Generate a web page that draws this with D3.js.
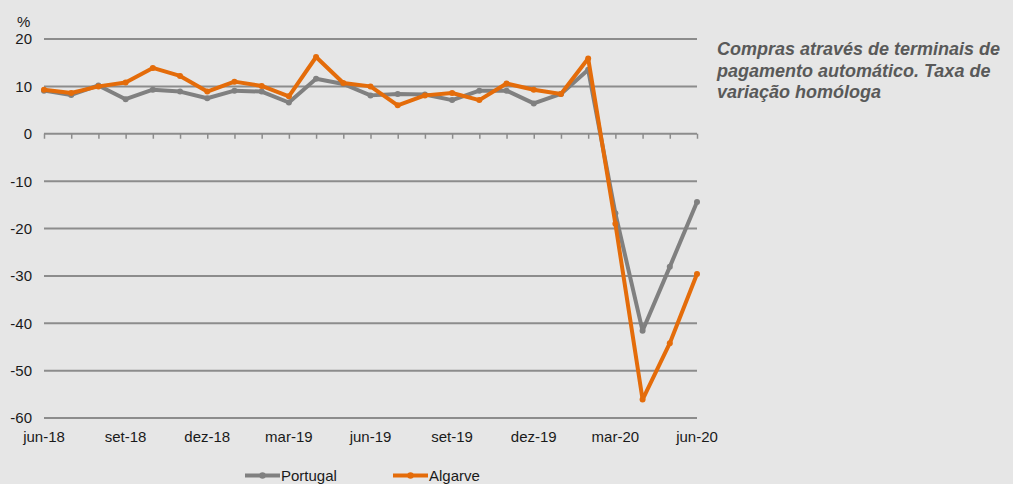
<!DOCTYPE html>
<html>
<head>
<meta charset="utf-8">
<script src="https://cdn.jsdelivr.net/npm/d3@7"></script>
<style>
  body { margin: 0; background: #e6e6e6; }
  svg { display: block; font-family: "Liberation Sans", Arial, sans-serif; }
</style>
</head>
<body>
<div id="chart"></div>
<script>
const months = ["jun-18","jul-18","ago-18","set-18","out-18","nov-18","dez-18","jan-19","fev-19","mar-19","abr-19","mai-19",
                "jun-19","jul-19","ago-19","set-19","out-19","nov-19","dez-19","jan-20","fev-20","mar-20","abr-20","mai-20","jun-20"];
const portugal = [9.1, 8.2, 10.2, 7.3, 9.3, 8.9, 7.5, 9.1, 8.9, 6.6, 11.6, 10.5,
                  8.1, 8.4, 8.3, 7.1, 9.1, 9.1, 6.4, 8.4, 13.5, -16.8, -41.6, -28.1, -14.4];
const algarve = [9.3, 8.6, 10.0, 10.8, 13.9, 12.2, 8.9, 11.0, 10.1, 7.9, 16.2, 10.7,
                 10.0, 6.0, 8.1, 8.6, 7.1, 10.6, 9.3, 8.4, 15.9, -19.0, -56.1, -44.2, -29.6];
const yTicks = [20, 10, 0, -10, -20, -30, -40, -50, -60];
const seriesNames = ["Portugal", "Algarve"];
const colors = ["#808080", "#e46c0a"];

const width = 1013, height = 484;
const svg = d3.select("#chart").append("svg").attr("width", width).attr("height", height);
svg.append("rect").attr("width", width).attr("height", height).attr("fill", "#e6e6e6");

const x = d3.scalePoint().domain(months).range([44, 697]);
const y = d3.scaleLinear().domain([-60, 20]).range([418, 39]);

// grid
svg.append("g")
  .selectAll("line")
  .data(yTicks.filter(d => d !== 0))
  .enter().append("line")
  .attr("x1", 44).attr("x2", 697)
  .attr("y1", d => y(d)).attr("y2", d => y(d))
  .attr("stroke", "#8c8c8c").attr("stroke-width", 2);

// y labels
svg.append("g")
  .selectAll("text")
  .data(yTicks)
  .enter().append("text")
  .attr("x", 32).attr("y", d => y(d) + 5.4)
  .attr("text-anchor", "end")
  .attr("font-size", 15).attr("fill", "#1a1a1a")
  .text(d => d);
svg.append("text").attr("x", 17).attr("y", 27).attr("font-size", 15).attr("fill", "#1a1a1a").text("%");

// zero axis with ticks
const xAxis = d3.axisBottom(x).tickSize(5).tickFormat("");
const ax = svg.append("g").attr("transform", "translate(0," + y(0) + ")").call(xAxis);
ax.select(".domain").attr("stroke", "#8c8c8c").attr("stroke-width", 2).attr("d", "M44,0H697");
ax.selectAll(".tick line").attr("stroke", "#8c8c8c").attr("stroke-width", 1.5);

// x labels
svg.append("g")
  .selectAll("text")
  .data(months.filter((d, i) => i % 3 === 0))
  .enter().append("text")
  .attr("x", d => x(d)).attr("y", 442)
  .attr("text-anchor", "middle")
  .attr("font-size", 15).attr("fill", "#1a1a1a")
  .text(d => d);

// lines
const line = d3.line().x((d, i) => x(months[i])).y(d => y(d));
[portugal, algarve].forEach((vals, s) => {
  svg.append("path").datum(vals)
    .attr("d", line).attr("fill", "none")
    .attr("stroke", colors[s]).attr("stroke-width", 4).attr("stroke-linejoin", "round");
  svg.append("g").selectAll("circle").data(vals).enter().append("circle")
    .attr("cx", (d, i) => x(months[i])).attr("cy", d => y(d))
    .attr("r", 3).attr("fill", colors[s]);
});

// legend
const legendX = [245, 393];
seriesNames.forEach((name, s) => {
  const g = svg.append("g").attr("transform", "translate(" + legendX[s] + ",475.5)");
  g.append("line").attr("x1", 0).attr("x2", 35).attr("stroke", colors[s]).attr("stroke-width", 4);
  g.append("circle").attr("cx", 17.5).attr("r", 3.2).attr("fill", colors[s]);
  g.append("text").attr("x", 36).attr("y", 5.4).attr("font-size", 15).attr("fill", "#1a1a1a").text(name);
});

// title
const title = ["Compras através de terminais de", "pagamento automático. Taxa de", "variação homóloga"];
svg.append("text")
  .attr("font-size", 18).attr("font-weight", "bold").attr("font-style", "italic").attr("fill", "#595959")
  .selectAll("tspan").data(title).enter().append("tspan")
  .attr("x", 717).attr("y", (d, i) => 55 + i * 21.7)
  .text(d => d);
</script>
</body>
</html>
